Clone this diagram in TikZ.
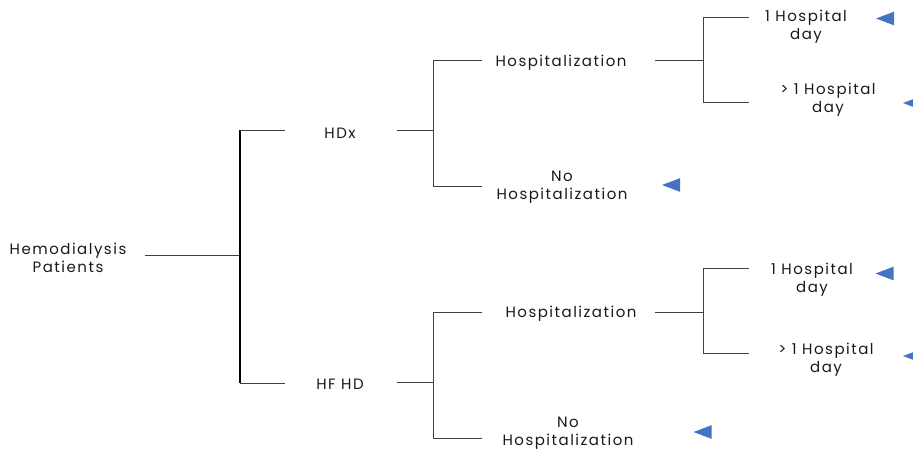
\documentclass[tikz,border=0pt]{standalone}
\usepackage{fontspec}
\setmainfont{Poppins}[LetterSpace=10]
\definecolor{triblue}{HTML}{4472C4}
\definecolor{linegray}{HTML}{404040}
\begin{document}
\begin{tikzpicture}[x=1pt,y=-1pt,
  lbl/.style={font=\fontsize{15}{18}\selectfont, align=center, inner sep=0pt, text=black!90, yshift=-2pt},
  ln/.style={draw=linegray, line width=0.9pt},
  bar/.style={draw=black, line width=1.8pt},
  ltri/.pic={\fill[triblue] (-9,0) -- (9,-6.8) -- (9,6.8) -- cycle;}]
\useasboundingbox (0,0) rectangle (913,448);

% text nodes
\node[lbl] (root) at (68,256) {Hemodialysis\\Patients};
\node[lbl] (hdx)  at (340,131) {HDx};
\node[lbl] (hfhd) at (340,382) {HF HD};
\node[lbl] (h1)   at (561,61) {Hospitalization};
\node[lbl] (nh1)  at (562,185) {No\\Hospitalization};
\node[lbl] (h2)   at (571,312) {Hospitalization};
\node[lbl] (nh2)  at (568,431) {No\\Hospitalization};
\node[lbl] (d1a)  at (806,25) {1 Hospital\\day};
\node[lbl] (d1b)  at (828,98) {> 1 Hospital\\day};
\node[lbl] (d2a)  at (812,278) {1 Hospital\\day};
\node[lbl] (d2b)  at (826,358) {> 1 Hospital\\day};

% connector end points
\coordinate (rootR) at (145,255);
\coordinate (j0)    at (240,255);
\coordinate (j0t)   at (240,130);
\coordinate (j0b)   at (240,383);
\coordinate (hdxL)  at (285,130);
\coordinate (hfhdL) at (285,383);
\coordinate (hdxR)  at (397,130);
\coordinate (hfhdR) at (397,382);
\coordinate (j1)    at (433,130);
\coordinate (j1t)   at (433,60);
\coordinate (j1b)   at (433,186);
\coordinate (h1L)   at (482,60);
\coordinate (nh1L)  at (482,186);
\coordinate (h1R)   at (655,60);
\coordinate (k1)    at (703,60);
\coordinate (k1t)   at (703,17);
\coordinate (k1b)   at (703,102);
\coordinate (d1aL)  at (749,17);
\coordinate (d1bL)  at (749,102);
\coordinate (j2)    at (433,382);
\coordinate (j2t)   at (433,312);
\coordinate (j2b)   at (433,438);
\coordinate (h2L)   at (482,312);
\coordinate (nh2L)  at (482,438);
\coordinate (h2R)   at (655,312);
\coordinate (k2)    at (703,312);
\coordinate (k2t)   at (703,268);
\coordinate (k2b)   at (703,353);
\coordinate (d2aL)  at (749,268);
\coordinate (d2bL)  at (749,353);

% root level
\draw[ln] (rootR) -- (j0);
\draw[bar] (j0t) -- (j0b);
\draw[ln] (j0t) -- (hdxL);
\draw[ln] (j0b) -- (hfhdL);

% HDx branch
\draw[ln] (hdxR) -- (j1);
\draw[ln] (h1L) -- (j1t) -- (j1b) -- (nh1L);
\draw[ln] (h1R) -- (k1);
\draw[ln] (d1aL) -- (k1t) -- (k1b) -- (d1bL);

% HF HD branch
\draw[ln] (hfhdR) -- (j2);
\draw[ln] (h2L) -- (j2t) -- (j2b) -- (nh2L);
\draw[ln] (h2R) -- (k2);
\draw[ln] (d2aL) -- (k2t) -- (k2b) -- (d2bL);

% terminal markers
\pic at (885,18.5) {ltri};
\pic at (912,103) {ltri};
\pic at (671,185) {ltri};
\pic at (884.5,273.5) {ltri};
\pic at (912,356) {ltri};
\pic at (702.5,432) {ltri};
\end{tikzpicture}
\end{document}
